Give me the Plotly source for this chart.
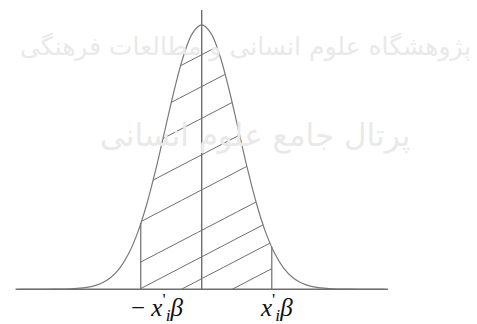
import numpy as np
import plotly.graph_objects as go

# === DATA (x in standard-deviation units, heights) ===
curve_x = [-5.0, -4.5, -4.0, -3.75, -3.5, -3.25, -3.0, -2.75, -2.5, -2.25, -2.0, -1.75,
           -1.5, -1.25, -1.0, -0.75, -0.5, -0.25, 0.0, 0.25, 0.5, 0.75, 1.0, 1.25,
           1.5, 1.75, 2.0, 2.25, 2.5, 2.75, 3.0, 3.25, 3.5, 3.75, 4.0, 4.5, 5.0]
curve_y = [0.0, 0.0, 0.0002, 0.0004, 0.0009, 0.002, 0.0044, 0.0091, 0.0175, 0.0317,
           0.054, 0.0863, 0.1295, 0.1826, 0.242, 0.3011, 0.3521, 0.3867, 0.3989,
           0.3867, 0.3521, 0.3011, 0.242, 0.1826, 0.1295, 0.0863, 0.054, 0.0317,
           0.0175, 0.0091, 0.0044, 0.002, 0.0009, 0.0004, 0.0002, 0.0, 0.0]

lower_bound = -1.67      # -x'_i beta
upper_bound = 1.92       # x'_i beta
axis_x = [-5.1, 5.1]     # horizontal axis extent
axis_top = 0.4216        # vertical axis height

# hatching: height where each line crosses the vertical axis, common slope
hatch_y0 = [0.354, 0.306, 0.258, 0.203, 0.150, 0.089, 0.049, 0.016, -0.024]
hatch_slope = 0.0287

tick_labels = ["\u2212 <i>x</i><sup>'</sup><sub><i>i</i></sub><i>\u03b2</i>",
               "<i>x</i><sup>'</sup><sub><i>i</i></sub><i>\u03b2</i>"]
tick_pos = [-1.2, 2.05]

watermark = ["\u067e\u0698\u0648\u0647\u0634\u06af\u0627\u0647 \u0639\u0644\u0648\u0645 \u0627\u0646\u0633\u0627\u0646\u06cc \u0648 \u0645\u0637\u0627\u0644\u0639\u0627\u062a \u0641\u0631\u0647\u0646\u06af\u06cc",
             "\u067e\u0631\u062a\u0627\u0644 \u062c\u0627\u0645\u0639 \u0639\u0644\u0648\u0645 \u0627\u0646\u0633\u0627\u0646\u06cc"]
watermark_pos = [(1.2, 0.365), (1.45, 0.232)]

LINE = "#6e6e6e"

fig = go.Figure()

# watermark text (very light)
for t, (wx, wy), sz in zip(watermark, watermark_pos, [25, 31]):
    fig.add_annotation(x=wx, y=wy, text=t, showarrow=False, xanchor="center",
                       font=dict(family="DejaVu Sans", size=sz, color="#e9e9e9"))

# hatching clipped to area under curve between the bounds
xs = np.linspace(lower_bound, upper_bound, 800)
top = np.interp(xs, curve_x, curve_y)
for c in hatch_y0:
    ys = c + hatch_slope * xs
    ok = (ys >= 0) & (ys <= top)
    fig.add_trace(go.Scatter(x=xs[ok], y=ys[ok], mode="lines",
                             line=dict(color=LINE, width=1), hoverinfo="skip"))

# the density curve
fig.add_trace(go.Scatter(x=curve_x, y=curve_y, mode="lines", line_shape="spline",
                         line=dict(color="#7a7a7a", width=1.2), hoverinfo="skip"))

# bound verticals
for b in [lower_bound, upper_bound]:
    fig.add_trace(go.Scatter(x=[b, b], y=[0, np.interp(b, curve_x, curve_y)], mode="lines",
                             line=dict(color=LINE, width=1.2), hoverinfo="skip"))

# axes
fig.add_trace(go.Scatter(x=axis_x, y=[0, 0], mode="lines",
                         line=dict(color=LINE, width=1.4), hoverinfo="skip"))
fig.add_trace(go.Scatter(x=[0, 0], y=[0, axis_top], mode="lines",
                         line=dict(color=LINE, width=1.4), hoverinfo="skip"))

for t, p in zip(tick_labels, tick_pos):
    fig.add_annotation(x=p, y=-0.026, text=t, showarrow=False, xanchor="center", yanchor="middle",
                       font=dict(family="Liberation Serif", size=25, color="#111111"))

# page body has an 8px margin, so the figure is 8px smaller and ranges compensate
fig.update_layout(
    width=469, height=316, showlegend=False,
    margin=dict(l=0, r=0, t=0, b=0),
    paper_bgcolor="white", plot_bgcolor="white",
    xaxis=dict(range=[-5.307, 7.542], visible=False, fixedrange=True),
    yaxis=dict(range=[-0.0524, 0.4245], visible=False, fixedrange=True),
)

fig.write_html("out.html")
